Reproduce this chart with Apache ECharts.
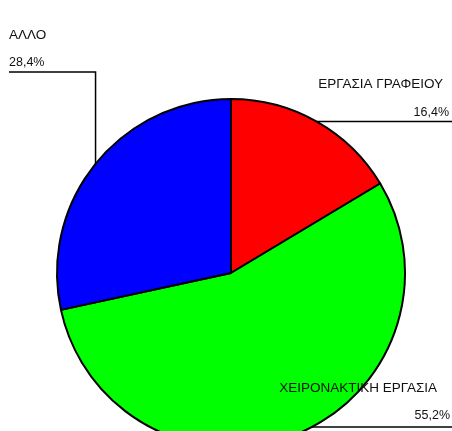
<!DOCTYPE html>
<html>
<head>
<meta charset="utf-8">
<script src="https://cdn.jsdelivr.net/npm/echarts@6/dist/echarts.min.js"></script>
<style>
  html, body { margin: 0; padding: 0; background: #fff; }
  #main { width: 452px; height: 431px; }
</style>
</head>
<body>
<div id="main"></div>
<script>
const names = ['ΕΡΓΑΣΙΑ ΓΡΑΦΕΙΟΥ', 'ΧΕΙΡΟΝΑΚΤΙΚΗ ΕΡΓΑΣΙΑ', 'ΑΛΛΟ']
const values = [16.4, 55.2, 28.4]
const colors = ['#ff0000', '#00ff00', '#0000ff']

const chart = echarts.init(document.getElementById('main'))

const cx = 231
const cy = 273
const r = 174

function richFor (padRight) {
  return {
    n: { fontSize: 13.5, lineHeight: 42, color: '#111', padding: [0, padRight, 0, 0] },
    p: { fontSize: 12.5, lineHeight: 14, color: '#111' }
  }
}
const labelAlign = ['right', 'right', 'left']
const labelPad = [6, 13, 0]

// the bottom leader would fall below the window, so pull it up along the rim
function rimPointAtY (y) {
  return [cx + Math.sqrt(r * r - (y - cy) * (y - cy)), y]
}

const option = {
  animation: false,
  textStyle: { fontFamily: 'Liberation Sans, Arial, sans-serif' },
  series: [
    {
      type: 'pie',
      center: [cx, cy],
      radius: r,
      startAngle: 90,
      clockwise: true,
      avoidLabelOverlap: false,
      itemStyle: { borderColor: '#000', borderWidth: 2 },
      emphasis: { disabled: true },
      labelLine: { show: true, lineStyle: { color: '#000', width: 1.5 } },
      data: names.map((name, i) => ({
        name: name,
        value: values[i],
        itemStyle: { color: colors[i] },
        label: {
          show: true,
          fontFamily: 'Liberation Sans, Arial, sans-serif',
          formatter: '{n|{b}}\n{p|' + values[i].toFixed(1).replace('.', ',') + '%}',
          align: labelAlign[i],
          rich: richFor(labelPad[i])
        }
      })),
      labelLayout: function (params) {
        const i = params.dataIndex
        const p = params.labelLinePoints[0]
        if (i === 0) {
          return {
            x: 449, y: p[1] - 2, align: 'right', verticalAlign: 'bottom',
            labelLinePoints: [p, [452, p[1]], [452, p[1]]]
          }
        }
        if (i === 1) {
          const q = rimPointAtY(427)
          return {
            x: 450, y: 423, align: 'right', verticalAlign: 'bottom',
            labelLinePoints: [q, [452, q[1]], [452, q[1]]]
          }
        }
        return {
          x: 9, y: 70, align: 'left', verticalAlign: 'bottom',
          labelLinePoints: [p, [p[0], 72], [9, 72]]
        }
      }
    }
  ]
}

chart.setOption(option)
</script>
</body>
</html>
